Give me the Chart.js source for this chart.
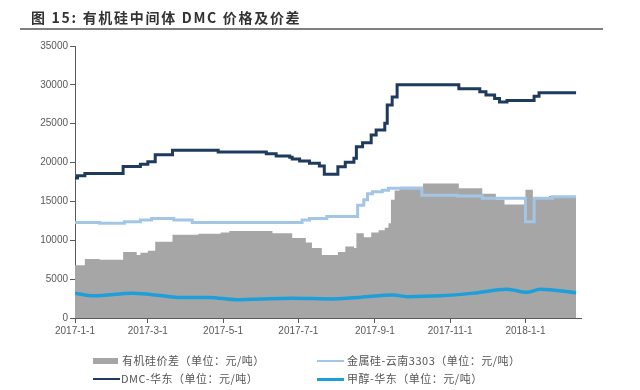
<!DOCTYPE html>
<html>
<head>
<meta charset="utf-8">
<script src="https://cdn.jsdelivr.net/npm/chart.js@4.4.1/dist/chart.umd.min.js"></script>
<style>
  body { margin: 0; background: #fff; }
  #wrap { position: relative; width: 640px; height: 390px; overflow: hidden; }
  #title { position: absolute; left: 31px; top: 7px; font: bold 14px "Noto Sans CJK SC", sans-serif; letter-spacing: 1.7px; color: #333; white-space: nowrap; }
  #rule { position: absolute; left: 20px; top: 28px; width: 583px; height: 2px; background: #808080; }
  .lg { position: absolute; font: 11px "Noto Sans CJK SC", sans-serif; color: #555; white-space: nowrap; letter-spacing: 0.5px; }
  .sw { position: absolute; }
</style>
</head>
<body>
<div id="wrap">
  <div id="title">图 15: 有机硅中间体 DMC 价格及价差</div>
  <div id="rule"></div>
  <canvas id="myChart" width="640" height="390"></canvas>
  <div class="sw" style="left:93px;top:358px;width:25px;height:6px;background:#a6a6a6"></div>
  <div class="lg" style="left:122px;top:352px">有机硅价差（单位：元/吨）</div>
  <div class="sw" style="left:317px;top:360px;width:27px;height:2px;background:#a3c6e6"></div>
  <div class="lg" style="left:347px;top:352px">金属硅-云南3303（单位：元/吨）</div>
  <div class="sw" style="left:93px;top:378px;width:27px;height:2px;background:#1f3a5f"></div>
  <div class="lg" style="left:121px;top:370px">DMC-华东（单位：元/吨）</div>
  <div class="sw" style="left:317px;top:378px;width:27px;height:3px;background:#1e9fd9"></div>
  <div class="lg" style="left:347px;top:370px">甲醇-华东（单位：元/吨）</div>
</div>
<script>
// x axis tick positions and labels
var tickDates = ['2017-01-01', '2017-03-01', '2017-05-01', '2017-07-01', '2017-09-01', '2017-11-01', '2018-01-01'];
var tickLabels = ['2017-1-1', '2017-3-1', '2017-5-1', '2017-7-1', '2017-9-1', '2017-11-1', '2018-1-1'];

// 有机硅价差 (price spread, area)
var spreadDates = ['2017-01-01','2017-01-09','2017-01-21','2017-02-09','2017-02-20','2017-02-23','2017-03-01','2017-03-07','2017-03-21','2017-04-11','2017-04-29','2017-05-06','2017-06-10','2017-06-26','2017-07-07','2017-07-12','2017-07-20','2017-08-02','2017-08-08','2017-08-15','2017-08-17','2017-08-23','2017-08-29','2017-09-04','2017-09-09','2017-09-12','2017-09-14','2017-09-17','2017-09-21','2017-10-10','2017-11-08','2017-11-27','2017-12-08','2017-12-15','2018-01-01','2018-01-07','2018-01-20','2018-02-11'];
var spreadValues = [6800,7600,7500,8500,8100,8400,8650,9800,10700,10850,11000,11200,10900,10300,9700,9000,8100,8500,9200,9000,10900,10400,11000,11300,11600,12200,15200,16400,16900,17300,16700,16000,15200,14600,16500,15400,15700,15700];

// 金属硅-云南3303
var siliconDates = ['2017-01-01','2017-01-21','2017-02-10','2017-02-23','2017-03-04','2017-03-22','2017-04-06','2017-07-04','2017-07-10','2017-07-24','2017-08-18','2017-08-23','2017-08-26','2017-08-30','2017-09-07','2017-09-12','2017-10-09','2017-11-07','2017-11-27','2018-01-01','2018-01-08','2018-01-23','2018-02-11'];
var siliconValues = [12300,12200,12400,12600,12800,12600,12300,12600,12800,13050,14500,15200,16000,16250,16450,16700,15800,15700,15400,12400,15400,15600,15600];

// DMC-华东
var dmcDates = ['2017-01-01','2017-01-03','2017-01-09','2017-02-09','2017-02-23','2017-03-01','2017-03-07','2017-03-21','2017-04-27','2017-06-05','2017-06-13','2017-06-24','2017-06-26','2017-07-02','2017-07-10','2017-07-18','2017-07-22','2017-08-02','2017-08-08','2017-08-15','2017-08-17','2017-08-22','2017-08-29','2017-09-02','2017-09-09','2017-09-11','2017-09-15','2017-09-19','2017-11-08','2017-11-25','2017-11-30','2017-12-07','2017-12-11','2017-12-17','2018-01-08','2018-01-12','2018-02-11'];
var dmcValues = [18000,18300,18600,19500,19800,20100,21000,21600,21350,21150,20850,20700,20450,20200,19900,19550,18500,19450,20050,20550,22050,22550,23550,24200,25050,27400,28450,30000,29500,29100,28700,28250,27800,28000,28550,29000,29000];

// 甲醇-华东
var methanolDates = ['2017-01-01','2017-01-16','2017-02-17','2017-03-11','2017-03-25','2017-04-20','2017-05-12','2017-05-31','2017-06-26','2017-07-29','2017-08-20','2017-08-29','2017-09-16','2017-09-27','2017-10-24','2017-11-20','2017-12-17','2018-01-02','2018-01-13','2018-02-11'];
var methanolValues = [3200,2850,3200,2900,2650,2650,2350,2450,2550,2450,2650,2800,2950,2750,2850,3200,3700,3300,3700,3250];

var start = Date.UTC(2017, 0, 1);
function dayOf(s) {
  var p = s.split('-');
  return Math.round((Date.UTC(+p[0], +p[1] - 1, +p[2]) - start) / 864e5);
}
function pts(dates, values) {
  return dates.map(function (d, i) { return { x: dayOf(d), y: values[i] }; });
}
var tickDays = tickDates.map(dayOf);

var axisColor = '#5a5a5a';
var tickFont = { family: 'Liberation Sans, Arial, sans-serif', size: 10 };

const ctx = document.getElementById('myChart').getContext('2d');
const myChart = new Chart(ctx, {
  type: 'line',
  data: {
    datasets: [{
      label: '甲醇-华东（单位：元/吨）',
      data: pts(methanolDates, methanolValues),
      borderColor: '#1e9fd9',
      borderWidth: 3.5,
      cubicInterpolationMode: 'monotone',
      order: 1
    }, {
      label: 'DMC-华东（单位：元/吨）',
      data: pts(dmcDates, dmcValues),
      borderColor: '#1f3a5f',
      borderWidth: 3,
      stepped: 'before',
      order: 2
    }, {
      label: '金属硅-云南3303（单位：元/吨）',
      data: pts(siliconDates, siliconValues),
      borderColor: '#a3c6e6',
      borderWidth: 3,
      stepped: 'before',
      order: 3
    }, {
      label: '有机硅价差（单位：元/吨）',
      data: pts(spreadDates, spreadValues),
      borderColor: 'rgba(0,0,0,0)',
      borderWidth: 0,
      backgroundColor: '#a6a6a6',
      fill: 'origin',
      stepped: 'before',
      order: 4
    }]
  },
  options: {
    responsive: false,
    devicePixelRatio: 1,
    animation: false,
    elements: { point: { radius: 0 }, line: { tension: 0 } },
    layout: { padding: { top: 46, right: 59, bottom: 42, left: 0 } },
    plugins: { legend: { display: false }, tooltip: { enabled: false } },
    scales: {
      x: {
        type: 'linear',
        min: 0,
        max: 410,
        afterBuildTicks: function (scale) {
          scale.ticks = tickDays.map(function (v) { return { value: v }; });
        },
        afterFit: function (scale) { scale.height = 30; },
        ticks: {
          autoSkip: false,
          maxRotation: 0,
          color: '#595959',
          font: tickFont,
          padding: 2,
          callback: function (v) {
            var i = tickDays.indexOf(v);
            return i >= 0 ? tickLabels[i] : '';
          }
        },
        grid: { drawOnChartArea: false, drawTicks: true, tickLength: 5, color: axisColor },
        border: { color: axisColor, width: 1 }
      },
      y: {
        min: 0,
        max: 35000,
        afterFit: function (scale) { scale.width = 75; },
        ticks: {
          stepSize: 5000,
          color: '#595959',
          font: tickFont,
          padding: 2,
          callback: function (v) { return String(v); }
        },
        grid: { drawOnChartArea: false, drawTicks: true, tickLength: 5, color: axisColor },
        border: { color: axisColor, width: 1 }
      }
    }
  }
});
</script>
</body>
</html>
